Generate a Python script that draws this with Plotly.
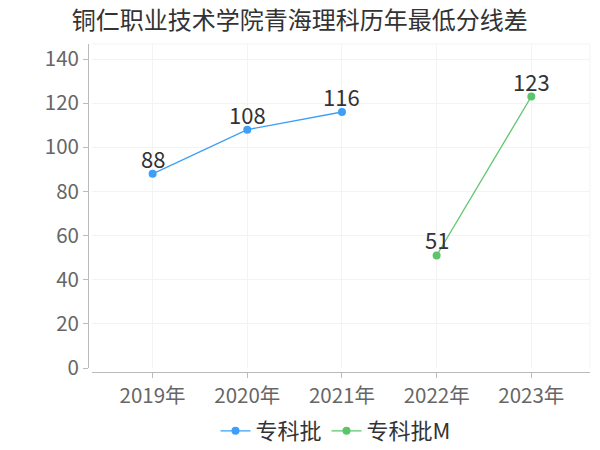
import plotly.graph_objects as go

years = ["2019年", "2020年", "2021年", "2022年", "2023年"]
zk_years = ["2019年", "2020年", "2021年"]
zk_values = [88, 108, 116]
zkm_years = ["2022年", "2023年"]
zkm_values = [51, 123]
y_ticks = [0, 20, 40, 60, 80, 100, 120, 140]

FONT = "Noto Sans CJK SC"
BLUE = "#3d9ff7"
GREEN = "#5cc56b"

fig = go.Figure()

for name, xs, ys, color in [("专科批", zk_years, zk_values, BLUE),
                            ("专科批M", zkm_years, zkm_values, GREEN)]:
    fig.add_trace(go.Scatter(
        x=xs, y=ys, name=name,
        mode="lines+markers",
        line=dict(color=color, width=1.3),
        marker=dict(color=color, size=8),
    ))
    # value labels sitting right on top of the points
    for xv, yv in zip(xs, ys):
        fig.add_annotation(x=xv, y=yv, text=str(yv), showarrow=False,
                           yanchor="bottom", yshift=-2,
                           font=dict(size=22, color="#333333", family=FONT))

# page body keeps an 8px margin, so the figure is 8px smaller than the window
fig.update_layout(
    width=592, height=442,
    paper_bgcolor="white", plot_bgcolor="white",
    font=dict(family=FONT, color="#666666", size=20.5),
    title=dict(text="铜仁职业技术学院青海理科历年最低分线差", x=0.493, xanchor="center",
               y=0.971, yanchor="middle", font=dict(size=24, color="#333333")),
    margin=dict(l=80, r=10, t=36, b=78, autoexpand=False),
    showlegend=True,
    legend=dict(orientation="h", x=0.493, xanchor="center", y=-0.18, yanchor="middle",
                font=dict(size=22, color="#333333"), itemwidth=30,
                tracegroupgap=0),
    xaxis=dict(
        type="category", categoryorder="array", categoryarray=years,
        domain=[0.008, 1], range=[-0.64, 4.62],
        showline=True, linecolor="#bbbbbb", linewidth=1,
        ticks="outside", ticklen=5, tickcolor="#bbbbbb",
        showgrid=True, gridcolor="#f3f3f3", gridwidth=1,
        anchor="free", position=0, zeroline=False, automargin=False,
    ),
    yaxis=dict(
        domain=[0.012, 1], range=[0, 146.8],
        tickvals=y_ticks,
        showline=True, linecolor="#bbbbbb", linewidth=1,
        ticks="outside", ticklen=5, tickcolor="#bbbbbb",
        showgrid=True, gridcolor="#f3f3f3", gridwidth=1,
        anchor="free", position=0, zeroline=False, automargin=False,
    ),
)

# faint frame on top and right of the plot area
fig.add_shape(type="line", xref="x domain", yref="y domain", x0=0, x1=1, y0=1, y1=1,
              line=dict(color="#f3f3f3", width=1))
fig.add_shape(type="line", xref="x domain", yref="y domain", x0=1, x1=1, y0=0, y1=1,
              line=dict(color="#f3f3f3", width=1))

fig.write_html("out.html")
